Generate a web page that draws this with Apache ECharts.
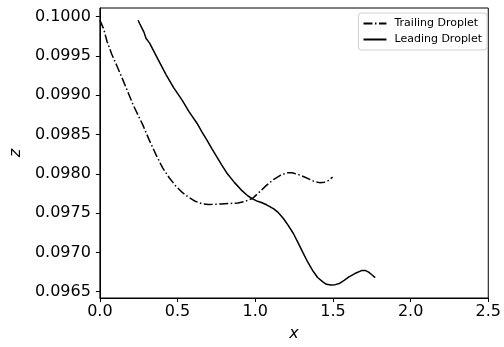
<!DOCTYPE html>
<html>
<head>
<meta charset="utf-8">
<script src="https://cdn.jsdelivr.net/npm/echarts@6/dist/echarts.min.js"></script>
<style>html,body{margin:0;padding:0;background:#fff}#c{width:504px;height:347px}</style>
</head>
<body>
<div id="c"></div>
<script>
var seriesNames = ['Trailing Droplet', 'Leading Droplet'];
var trailingX = [0, 0.0253, 0.0461, 0.0758, 0.1092, 0.1389, 0.1723, 0.2146, 0.2778, 0.3157, 0.3617, 0.4040, 0.4463, 0.4861, 0.5303, 0.5726, 0.6143, 0.6566, 0.6989, 0.7828, 0.8883, 0.9343, 0.9830, 1.0354, 1.0700, 1.1193, 1.1616, 1.2039, 1.2374, 1.2772, 1.3131, 1.3510, 1.3826, 1.4141, 1.4457, 1.4665, 1.4981];
var trailingZ = [0.099956, 0.099838, 0.099684, 0.099525, 0.099375, 0.099238, 0.099079, 0.098875, 0.098616, 0.098438, 0.098241, 0.098075, 0.097950, 0.097850, 0.097763, 0.097700, 0.097650, 0.097621, 0.097609, 0.097616, 0.097629, 0.097650, 0.097688, 0.097784, 0.097850, 0.097929, 0.097981, 0.098013, 0.098013, 0.097991, 0.097963, 0.097929, 0.097900, 0.097888, 0.097894, 0.097909, 0.097959];
var leadingX = [0.2462, 0.2557, 0.2620, 0.2715, 0.2778, 0.2841, 0.2967, 0.3201, 0.3725, 0.4249, 0.4735, 0.5303, 0.5745, 0.6250, 0.6566, 0.6881, 0.7197, 0.7828, 0.8207, 0.8668, 0.9091, 0.9514, 0.9830, 1.0145, 1.0354, 1.0732, 1.1193, 1.1490, 1.1825, 1.2121, 1.2456, 1.2753, 1.3087, 1.3384, 1.3718, 1.4015, 1.4350, 1.4583, 1.4880, 1.5152, 1.5404, 1.5720, 1.6035, 1.6414, 1.6875, 1.7109, 1.7298, 1.7487, 1.7721];
var leadingZ = [0.099954, 0.099913, 0.099931, 0.099850, 0.099856, 0.099800, 0.099725, 0.099663, 0.099463, 0.099266, 0.099100, 0.098934, 0.098788, 0.098644, 0.098534, 0.098431, 0.098325, 0.098116, 0.098000, 0.097888, 0.097796, 0.097721, 0.097681, 0.097650, 0.097638, 0.097606, 0.097554, 0.097506, 0.097429, 0.097344, 0.097241, 0.097125, 0.096991, 0.096875, 0.096763, 0.096681, 0.096625, 0.096594, 0.096584, 0.096590, 0.096604, 0.096644, 0.096688, 0.096731, 0.096771, 0.096769, 0.096750, 0.096719, 0.096679];
var zTicks = [0.0965, 0.0970, 0.0975, 0.0980, 0.0985, 0.0990, 0.0995, 0.1000];

function pairs(xs, ys) { return xs.map(function (x, i) { return [x, ys[i]]; }); }

var font = 'DejaVu Sans';
var chart = echarts.init(document.getElementById('c'), null, { renderer: 'canvas' });
chart.setOption({
  animation: false,
  backgroundColor: '#fff',
  grid: { left: 96, right: 12, top: 8, bottom: 44, show: true, borderColor: '#000', borderWidth: 1, backgroundColor: 'transparent' },
  legend: {
    orient: 'vertical', right: 17, top: 13,
    data: seriesNames,
    itemWidth: 23, itemHeight: 11, itemGap: 5,
    padding: [5, 5, 5, 4],
    itemStyle: { opacity: 0 },
    borderColor: '#d0d0d0', borderWidth: 1, borderRadius: 3, backgroundColor: '#fff',
    textStyle: { fontFamily: font, fontSize: 11, color: '#000', padding: [0, 0, 0, 3] }
  },
  xAxis: {
    type: 'value', min: 0, max: 2.5, interval: 0.5,
    name: 'x', nameLocation: 'middle', nameGap: 28,
    nameTextStyle: { fontFamily: font, fontSize: 16, fontStyle: 'italic', color: '#000' },
    axisLine: { show: true, onZero: false, lineStyle: { color: '#000', width: 1 } },
    axisTick: { show: true, inside: false, length: 4, lineStyle: { color: '#000' } },
    axisLabel: { fontFamily: font, fontSize: 16, color: '#000', margin: 6, formatter: function (v) { return v.toFixed(1); } },
    splitLine: { show: false }
  },
  yAxis: {
    type: 'value', min: 0.09642, max: 0.10011,
    name: 'z', nameLocation: 'middle', nameGap: 72, nameRotate: 90,
    nameTextStyle: { fontFamily: font, fontSize: 16, fontStyle: 'italic', color: '#000' },
    axisLine: { show: true, onZero: false, lineStyle: { color: '#000', width: 1 } },
    axisTick: { show: true, inside: false, length: 4, lineStyle: { color: '#000' }, customValues: zTicks },
    axisLabel: { fontFamily: font, fontSize: 16, color: '#000', margin: 9, customValues: zTicks, formatter: function (v) { return v.toFixed(4); } },
    splitLine: { show: false }
  },
  series: [
    {
      name: seriesNames[0], type: 'line', symbol: 'none', showSymbol: false,
      data: pairs(trailingX, trailingZ),
      lineStyle: { color: '#000', width: 1.5, type: [9, 2.5, 1.5, 2.5] },
      itemStyle: { color: '#000' }
    },
    {
      name: seriesNames[1], type: 'line', symbol: 'none', showSymbol: false,
      data: pairs(leadingX, leadingZ),
      lineStyle: { color: '#000', width: 1.5, type: 'solid' },
      itemStyle: { color: '#000' }
    }
  ]
});
</script>
</body>
</html>
